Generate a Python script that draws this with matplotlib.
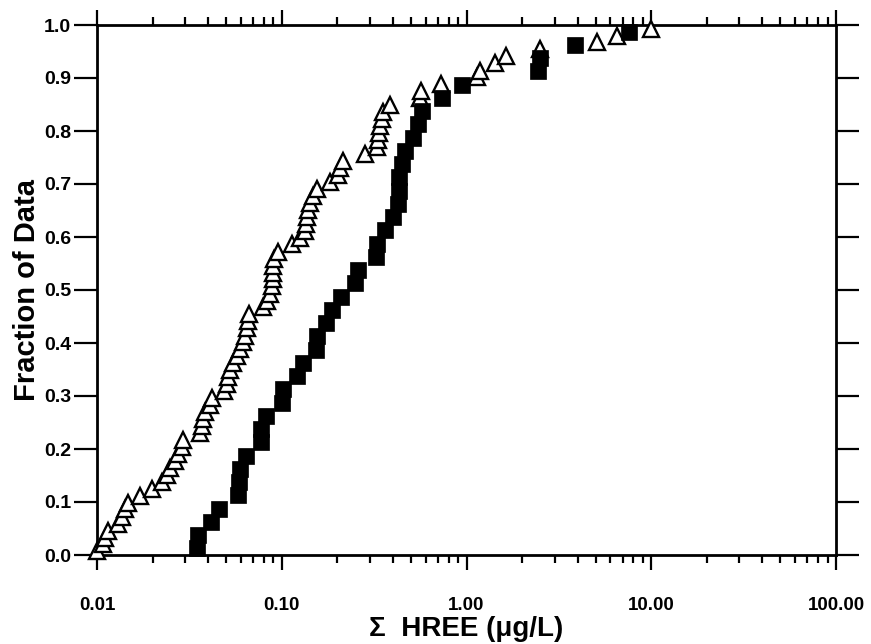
import matplotlib
matplotlib.use("Agg")
import matplotlib.pyplot as plt
from matplotlib.ticker import LogLocator, FixedLocator, FixedFormatter, NullFormatter

plt.rcParams['font.family'] = ['Liberation Sans', 'DejaVu Sans']

# Series 1: filled squares (sum HREE, ug/L) and their cumulative fractions
sq_x = [0.0349, 0.0353, 0.0413, 0.0459, 0.0582, 0.0587, 0.0594, 0.0638, 0.0769, 0.0772,
        0.0819, 0.1007, 0.1010, 0.1205, 0.1309, 0.1532, 0.1546, 0.1742, 0.1864, 0.2085,
        0.2492, 0.2577, 0.3237, 0.3266, 0.3622, 0.4017, 0.4275, 0.4312, 0.4329, 0.4460,
        0.4647, 0.5115, 0.5484, 0.5766, 0.7324, 0.9491, 2.447, 2.499, 3.867, 7.578]
sq_f = [0.0125, 0.0375, 0.0625, 0.0875, 0.1125, 0.1375, 0.1625, 0.1875, 0.2125, 0.2375,
        0.2625, 0.2875, 0.3125, 0.3375, 0.3625, 0.3875, 0.4125, 0.4375, 0.4625, 0.4875,
        0.5125, 0.5375, 0.5625, 0.5875, 0.6125, 0.6375, 0.6625, 0.6875, 0.7125, 0.7375,
        0.7625, 0.7875, 0.8125, 0.8375, 0.8625, 0.8875, 0.9125, 0.9375, 0.9625, 0.9875]

# Series 2: open triangles
tr_x = [0.0100, 0.0108, 0.0110, 0.0115, 0.0130, 0.0136, 0.0142, 0.0148, 0.0171, 0.0198,
        0.0224, 0.0238, 0.0248, 0.0264, 0.0275, 0.0287, 0.0293, 0.0361, 0.0369, 0.0376,
        0.0384, 0.0409, 0.0418, 0.0487, 0.0504, 0.0514, 0.0525, 0.0547, 0.0570, 0.0594,
        0.0619, 0.0633, 0.0646, 0.0659, 0.0667, 0.0795, 0.0829, 0.0864, 0.0882, 0.0893,
        0.0900, 0.0902, 0.0908, 0.0958, 0.1132, 0.1256, 0.1336, 0.1361, 0.1370, 0.1392,
        0.1422, 0.1482, 0.1546, 0.1824, 0.2024, 0.2067, 0.2154, 0.2823, 0.3265, 0.3319,
        0.3340, 0.3403, 0.3475, 0.3545, 0.3854, 0.5601, 0.5650, 0.7234, 1.140, 1.183,
        1.427, 1.636, 2.499, 5.066, 6.503, 10.0]
tr_f = [0.007, 0.020, 0.033, 0.046, 0.059, 0.072, 0.086, 0.099, 0.112, 0.125,
        0.138, 0.151, 0.164, 0.178, 0.191, 0.204, 0.217, 0.230, 0.243, 0.257,
        0.270, 0.283, 0.296, 0.309, 0.322, 0.336, 0.349, 0.362, 0.375, 0.388,
        0.401, 0.414, 0.428, 0.441, 0.454, 0.467, 0.480, 0.493, 0.507, 0.520,
        0.533, 0.546, 0.559, 0.572, 0.586, 0.599, 0.612, 0.625, 0.638, 0.651,
        0.664, 0.678, 0.691, 0.704, 0.717, 0.730, 0.743, 0.757, 0.770, 0.783,
        0.796, 0.809, 0.822, 0.836, 0.849, 0.862, 0.875, 0.888, 0.901, 0.914,
        0.928, 0.941, 0.954, 0.967, 0.980, 0.993]

x_ticks = [0.01, 0.1, 1, 10, 100]
x_labels = ['0.01', '0.10', '1.00', '10.00', '100.00']
y_ticks = [0.0, 0.1, 0.2, 0.3, 0.4, 0.5, 0.6, 0.7, 0.8, 0.9, 1.0]
y_labels = ['0.0', '0.1', '0.2', '0.3', '0.4', '0.5', '0.6', '0.7', '0.8', '0.9', '1.0']

fig = plt.figure(figsize=(8.71, 6.44), dpi=100)
ax = fig.add_axes([97/871, 1-555/644, (836-97)/871, (555-25)/644])

ax.plot(tr_x, tr_f, linestyle='none', marker='^', markersize=12,
        markerfacecolor='white', markeredgecolor='black', markeredgewidth=1.7,
        clip_on=False, zorder=3)
ax.plot(sq_x, sq_f, linestyle='none', marker='s', markersize=11.5,
        markerfacecolor='black', markeredgecolor='black', markeredgewidth=0.5,
        clip_on=False, zorder=4)

ax.set_xscale('log')
ax.set_xlim(0.01, 100)
ax.set_ylim(0, 1)

ax.xaxis.set_major_locator(FixedLocator(x_ticks))
ax.xaxis.set_major_formatter(FixedFormatter(x_labels))
ax.xaxis.set_minor_locator(LogLocator(base=10, subs=[2, 3, 4, 5, 6, 7, 8, 9], numticks=20))
ax.xaxis.set_minor_formatter(NullFormatter())
ax.yaxis.set_major_locator(FixedLocator(y_ticks))
ax.yaxis.set_major_formatter(FixedFormatter(y_labels))

for s in ax.spines.values():
    s.set_linewidth(2.0)

ax.tick_params(axis='x', which='major', direction='out', length=11, width=1.6,
               top=True, bottom=True, pad=19)
ax.tick_params(axis='x', which='minor', direction='out', length=5.5, width=1.6,
               top=True, bottom=True)
ax.tick_params(axis='y', which='major', direction='out', length=16.5, width=1.6,
               left=True, right=True, pad=2)
ax.tick_params(axis='y', which='minor', left=False, right=False)

for lab in ax.get_xticklabels():
    lab.set_fontsize(13.5)
    lab.set_fontweight('bold')
for lab in ax.get_yticklabels():
    lab.set_fontsize(14)
    lab.set_fontweight('bold')

ax.set_ylabel('Fraction of Data', fontsize=21, fontweight='bold', labelpad=2)
ax.set_xlabel('\u03a3  HREE (\u03bcg/L)', fontsize=20, fontweight='bold', labelpad=2)

fig.savefig('out.png', dpi=100)
